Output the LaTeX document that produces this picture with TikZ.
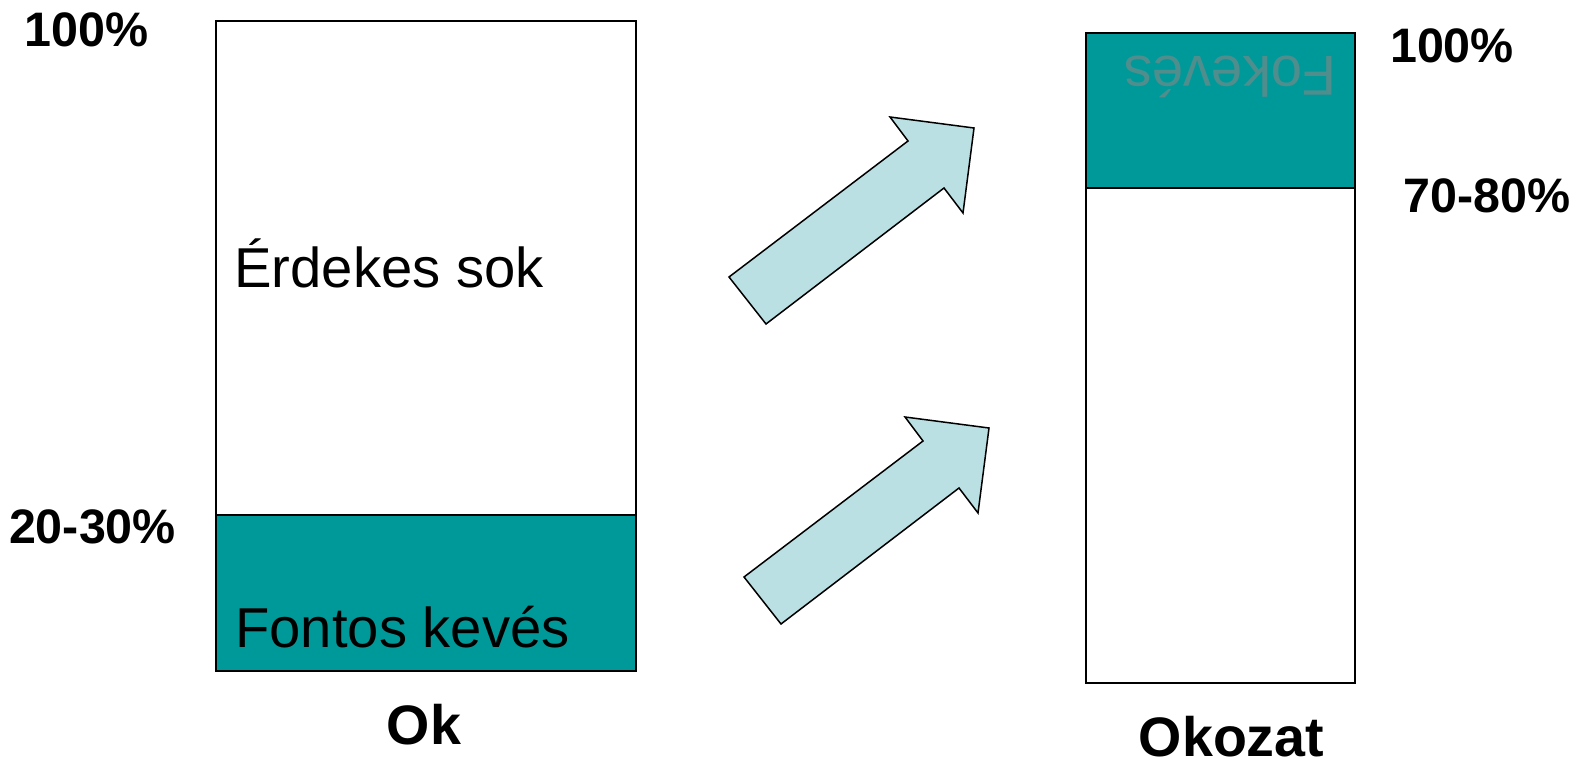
\documentclass[tikz,border=0pt]{standalone}
\usepackage{fontspec}
\setmainfont{Liberation Sans}
\definecolor{tealfill}{RGB}{0,153,153}
\definecolor{arrowfill}{RGB}{187,224,227}
\definecolor{dimtext}{RGB}{80,142,142}
\begin{document}
\begin{tikzpicture}[x=0.5pt,y=-0.5pt,
  bar/.style={draw=black,line width=1pt},
  blockarrow/.style={draw=black,fill=arrowfill,line width=0.75pt,line join=miter},
  pct/.style={font=\bfseries\fontsize{24.2}{29}\selectfont,anchor=base,inner sep=0pt},
  caption/.style={font=\bfseries\fontsize{27.8}{33}\selectfont,anchor=base,inner sep=0pt},
  inbox/.style={font=\fontsize{28.1}{34}\selectfont,anchor=base west,inner sep=0pt}]
\useasboundingbox (0,0) rectangle (1583,764);

% cause column
\fill[white] (216,21) rectangle (636,515);
\fill[tealfill] (216,515) rectangle (636,671);
\draw[bar] (216,21) rectangle (636,671);
\draw[bar] (216,515) -- (636,515);
\node[inbox] (erdekes) at (234,288) {Érdekes sok};
\node[inbox] (fontos) at (235,647) {Fontos kevés};
\node[caption] (ok) at (424,744) {Ok};
\node[pct] (l100) at (86.5,47) {100\%};
\node[pct] (l2030) at (92.5,543) {20-30\%};

% effect column
\fill[tealfill] (1086,33) rectangle (1355,188);
\fill[white] (1086,188) rectangle (1355,683);
\draw[bar] (1086,33) rectangle (1355,683);
\draw[bar] (1086,188) -- (1355,188);
\node[inbox,text=dimtext,rotate=180] (fokeves) at (1337,57) {Fokevés};
\node[caption] (okozat) at (1231.5,756) {Okozat};
\node[pct] (r100) at (1452,63) {100\%};
\node[pct] (r7080) at (1487,213) {70-80\%};

% block arrows
\draw[blockarrow] (729,277) -- (766,324) -- (944,188) -- (963,213)
  -- (974,128) -- (890,117) -- (908,141) -- cycle;
\draw[blockarrow] (744,577) -- (781,624) -- (959,488) -- (978,513)
  -- (989,428) -- (905,417) -- (923,441) -- cycle;
\end{tikzpicture}
\end{document}
